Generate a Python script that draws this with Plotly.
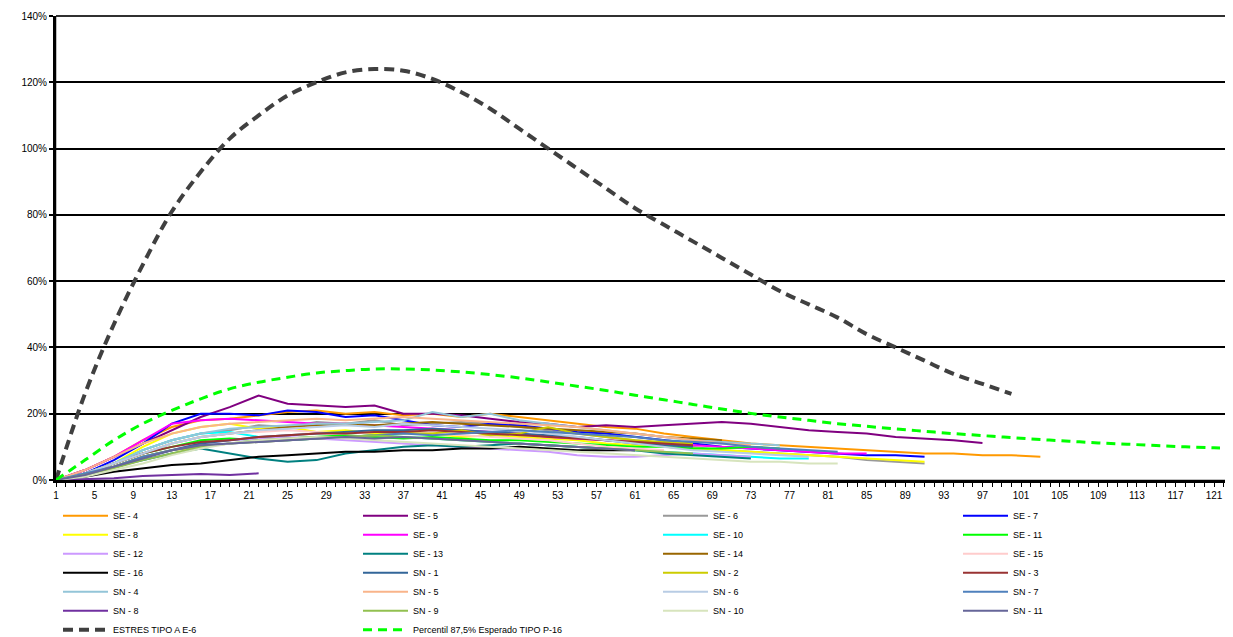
import plotly.graph_objects as go

# ---- data (values read at every 3rd day: x = 1, 4, 7, ...) ----
step = 3
E4 = [0, 3, 7, 12, 16, 18, 18.5, 19.5, 20.5, 21, 20, 20.5, 19.5, 20, 19, 20, 19, 18, 17, 16, 15.5, 14, 13, 12, 11, 10.5, 10, 9.5, 9, 8.5, 8, 8, 7.5, 7.5, 7]
E5 = [0, 3, 7, 11, 15, 19, 22, 25.5, 23, 22.5, 22, 22.5, 20, 20, 19.5, 18.5, 17.5, 17, 16, 16.5, 16, 16.5, 17, 17.5, 17, 16, 15, 14.5, 14, 13, 12.5, 12, 11.2]
E6 = [0, 2, 5, 9, 12, 14, 15, 16.5, 16, 17.5, 17, 18, 16.5, 17, 17.5, 17, 16, 15, 14, 13, 12, 11, 10, 9, 8.5, 8, 7.5, 7, 6, 5.5, 5]
E7 = [0, 2, 6, 11, 17, 20, 20, 19.5, 21, 20.5, 19, 19.5, 18, 16.5, 16, 17, 16.5, 15.5, 14.5, 14, 13, 12, 11, 10, 9.5, 9, 8.5, 8, 7.5, 7.5, 7]
E8 = [0, 2, 5, 10, 14, 16, 17, 15.5, 16, 14.5, 15, 14, 14.5, 14, 13, 13.5, 13, 12.5, 12, 11, 10.5, 10, 9.5, 9, 8.5, 8, 7.5, 7, 6.5, 6, 5.5]
E9 = [0, 3, 7, 12, 17, 18, 18.5, 18, 17.5, 17, 17, 16.5, 16, 15.5, 15, 14.5, 14, 13, 12.5, 12, 11.5, 11, 10.5, 10, 9.5, 9, 8.5, 8, 8]
E10 = [0, 2, 5, 9, 12, 14, 14.5, 13, 12, 12.5, 13, 13.5, 13, 12.5, 12, 11.5, 11, 10.5, 10, 9.5, 9, 8.5, 8, 7.5, 7, 6.5, 6.5]
E11 = [0, 2, 5, 8, 10, 12, 12.5, 12, 12.5, 13, 13.5, 13, 12.5, 13, 12.5, 12, 12, 11.5, 11, 10.5, 10, 10, 9.5, 9.5, 10, 9.5]
E12 = [0, 1.5, 4, 7, 9, 11, 12, 12.5, 13, 12.5, 12, 11.5, 11, 10.5, 10, 9.5, 9, 8.5, 7.5, 7, 7, 7.5, 8, 7.5, 7]
E13 = [0, 1.5, 4, 6, 8, 9.5, 8, 6.5, 5.5, 6, 8, 9, 10, 10.5, 10, 10.5, 11, 10.5, 10, 9.5, 9, 8, 7.5, 7, 6.5]
E14 = [0, 2, 5, 8, 11, 13, 14, 15, 16, 16.5, 17, 16.5, 17, 17.5, 17, 16.5, 16, 15.5, 15, 14.5, 14, 13, 12.5, 12]
E15 = [0, 2, 5, 8, 11, 13, 14, 14.5, 15, 14.5, 14, 14.5, 15, 14, 13.5, 13, 12.5, 12, 11, 10, 9.5, 9]
E16 = [0, 1, 2.5, 3.5, 4.5, 5, 6, 7, 7.5, 8, 8.5, 8.5, 9, 9, 9.5, 9.5, 10, 9.5, 9, 9, 9]
N1 = [0, 2, 4, 7, 9, 11, 12, 13, 13.5, 14, 14.5, 15, 15, 15.5, 15, 14.5, 14, 13.5, 13, 12, 11, 10.5, 10]
N2 = [0, 1.5, 4, 7, 9, 10, 11, 11.5, 12, 12.5, 13, 13.5, 14, 14, 15, 13.5, 14, 16, 14, 13, 12, 11.5, 11]
N3 = [0, 2, 5, 8, 10, 11.5, 12, 13, 13.5, 14, 14, 14.5, 14.5, 15, 14.5, 14, 13.5, 13, 12.5, 12, 11.5, 11, 10.5]
N4 = [0, 2, 5, 9, 12, 14, 15.5, 16, 16.5, 17, 17, 17.5, 18, 20.5, 19, 20, 18, 17, 16, 15, 14, 13, 12, 11.5, 11, 10.5]
N5 = [0, 3, 7, 11, 14, 16, 17, 17.5, 18, 18.5, 18, 18.5, 19, 18.5, 18, 17.5, 17, 16.5, 16, 15, 14, 13, 12, 11, 10.5]
N6 = [0, 2, 5, 8, 11, 13, 14, 15, 15.5, 16, 16.5, 16, 17, 16.5, 16, 15.5, 15, 14, 13, 12, 11, 10, 9, 8.5, 8, 7.5, 7]
N7 = [0, 2, 4, 7, 9, 10.5, 11, 11.5, 12, 12.5, 13, 13.5, 14, 13.5, 14, 14.5, 15, 14.5, 14, 13.5, 13, 12, 11.5, 11, 10, 9.5, 9, 8.5]
N8 = [0, 0.2, 0.5, 1.2, 1.5, 1.8, 1.5, 2]
N9 = [0, 1.5, 3.5, 6, 8, 10, 11, 12, 12.5, 13, 13, 13.5, 13, 12.5, 12, 11.5, 11, 10.5, 10, 9.5, 9, 8.5, 8]
N10 = [0, 1, 3, 5, 7.5, 9.5, 11, 12, 12.5, 13, 12.5, 12, 11.5, 11, 10.5, 10, 9.5, 9, 8.5, 8, 7.5, 7, 6.5, 6, 5.5, 5.5, 5, 5]
N11 = [0, 1.5, 4, 6.5, 9, 10.5, 11, 11.5, 12, 12.5, 13, 12.5, 13, 12.5, 12, 11.5, 11, 10.5, 10, 9.5, 9]

ESTRES = [0, 26, 47, 65, 81, 93, 103, 110, 116, 120, 123, 124, 123.5, 121, 117, 112, 106, 100, 94, 88, 82, 77, 72, 67, 62, 57, 53, 49, 44, 40, 36, 32, 29, 26]
PERCENTIL = [0, 6, 12, 17, 21, 24.5, 27.5, 29.5, 31, 32.3, 33, 33.5, 33.5, 33.2, 32.6, 31.8, 30.8, 29.6, 28.3, 27, 25.6, 24.2, 22.8, 21.4, 20.1, 19, 18, 17, 16.2, 15.4, 14.7, 14, 13.4, 12.8, 12.2, 11.7, 11.2, 10.8, 10.4, 10, 9.7, 9.5]

series = [
    ("SE - 4", E4, "#FF9900"), ("SE - 5", E5, "#800080"), ("SE - 6", E6, "#999999"), ("SE - 7", E7, "#0000FF"),
    ("SE - 8", E8, "#FFFF00"), ("SE - 9", E9, "#FF00FF"), ("SE - 10", E10, "#00FFFF"), ("SE - 11", E11, "#00FF00"),
    ("SE - 12", E12, "#CC99FF"), ("SE - 13", E13, "#008080"), ("SE - 14", E14, "#996600"), ("SE - 15", E15, "#FFCCCC"),
    ("SE - 16", E16, "#000000"), ("SN - 1", N1, "#336699"), ("SN - 2", N2, "#CCCC00"), ("SN - 3", N3, "#993333"),
    ("SN - 4", N4, "#93C5D8"), ("SN - 5", N5, "#F9B48A"), ("SN - 6", N6, "#B8CCE4"), ("SN - 7", N7, "#4F81BD"),
    ("SN - 8", N8, "#7030A0"), ("SN - 9", N9, "#92C050"), ("SN - 10", N10, "#D7E4BD"), ("SN - 11", N11, "#666699"),
]

legend_ids = ["legend", "legend2", "legend3", "legend4"]

fig = go.Figure()
# legend is 4 columns filled row by row: one vertical legend per column
for i, (name, vals, col) in enumerate(series):
    xs = list(range(1, 1 + step * len(vals), step))
    fig.add_trace(go.Scatter(x=xs, y=vals, name=name, mode="lines",
                             legend=legend_ids[i % 4],
                             line=dict(color=col, width=2)))

xs = list(range(1, 1 + step * len(ESTRES), step))
fig.add_trace(go.Scatter(x=xs, y=ESTRES, name="ESTRES TIPO A E-6", mode="lines", legend="legend",
                         line=dict(color="#404040", width=4, dash="10px,6px", shape="spline")))
xs = [min(x, 123) for x in range(1, 1 + step * len(PERCENTIL), step)]
fig.add_trace(go.Scatter(x=xs, y=PERCENTIL, name="Percentil 87,5% Esperado TIPO P-16", mode="lines",
                         legend="legend2",
                         line=dict(color="#00FF00", width=3, dash="9px,6px", shape="spline")))

W, H = 1225, 629  # page body has an 8px default margin, so the figure is sized/offset to compensate
leg_common = dict(orientation="v", xref="container", yanchor="top", xanchor="left", y=-0.046,
                  itemwidth=45, font=dict(size=9, color="black"), traceorder="normal",
                  bgcolor="rgba(0,0,0,0)")
fig.update_layout(
    width=W, height=H,
    margin=dict(l=48, r=3, t=8, b=157, autoexpand=False),
    paper_bgcolor="white", plot_bgcolor="white",
    font=dict(family="Liberation Sans, Arial, sans-serif", size=10, color="black"),
    showlegend=True,
    legend=dict(x=50 / W, **leg_common),
    legend2=dict(x=350 / W, **leg_common),
    legend3=dict(x=650 / W, **leg_common),
    legend4=dict(x=950 / W, **leg_common),
    shapes=[dict(type="rect", xref="paper", yref="paper", x0=0, y0=0, x1=1, y1=1,
                 line=dict(color="#808080", width=1), layer="below"),
            dict(type="line", xref="paper", yref="paper", x0=0, y0=1, x1=1, y1=1,
                 line=dict(color="black", width=1.5), layer="above")],
)
fig.update_xaxes(range=[1, 122.65], tick0=1, dtick=4, showgrid=False, zeroline=False,
                 showline=True, linecolor="black", linewidth=3, automargin=False,
                 ticks="outside", ticklen=4, tickcolor="black", tickwidth=1,
                 minor=dict(dtick=1, ticks="outside", ticklen=4, tickcolor="black", tickwidth=1),
                 tickfont=dict(size=10, color="black"))
fig.update_yaxes(range=[0, 140], dtick=20, showgrid=True, gridcolor="black", gridwidth=1.5,
                 zeroline=False, showline=True, linecolor="black", linewidth=3, automargin=False,
                 ticks="outside", ticklen=4, tickcolor="black", tickwidth=2,
                 ticksuffix="%", tickfont=dict(size=10, color="black"))

fig.write_html("out.html")
